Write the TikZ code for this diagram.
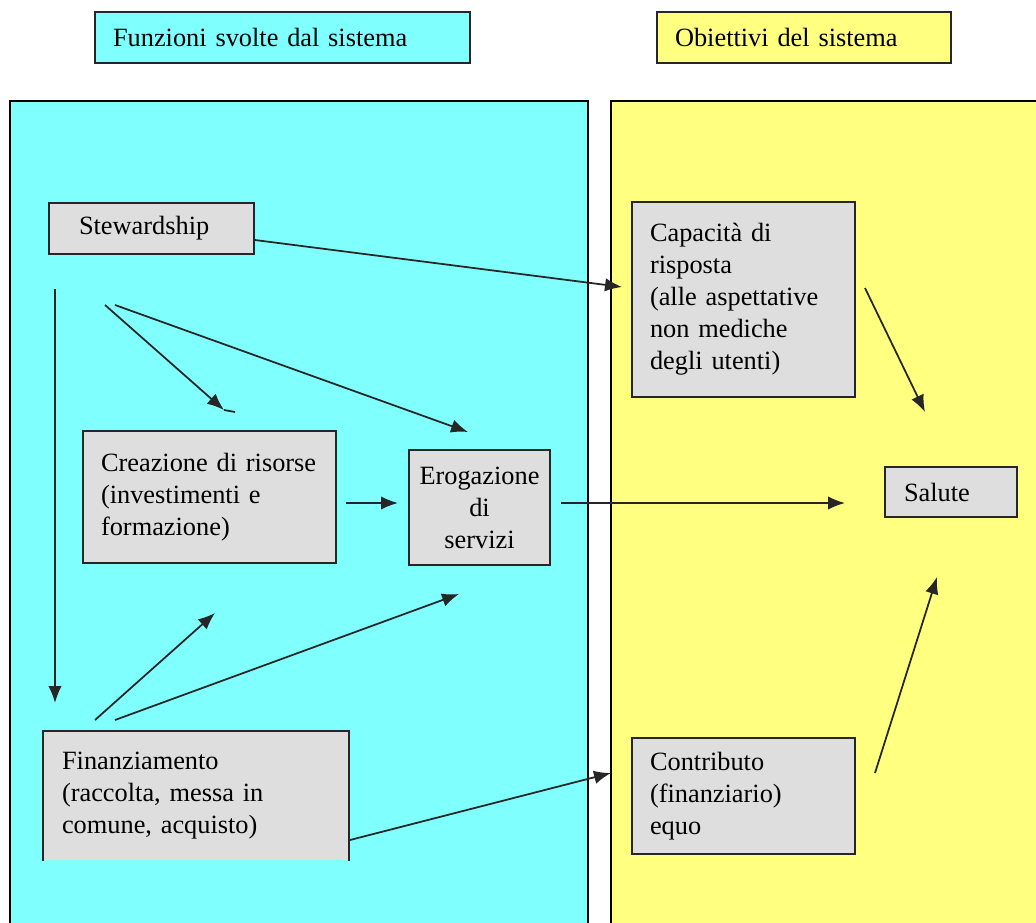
\documentclass[tikz,border=0pt]{standalone}
\usepackage{fontspec}
\setmainfont{Liberation Serif}
\usepackage{tikz}
\definecolor{ciano}{HTML}{80FFFF}
\definecolor{giallo}{HTML}{FFFF80}
\definecolor{grigio}{HTML}{DEDEDE}
\usetikzlibrary{arrows.meta}

\tikzset{
  boite/.style={rectangle, draw=black!85, fill=grigio, line width=1pt,
    align=left, font={\fontsize{15}{18.2}\selectfont}},
  fleche/.style={-{Latex[length=0.34cm,width=0.27cm]}, line width=1pt, black!85},
}

\begin{document}
\begin{tikzpicture}[x=0.02cm,y=-0.02cm]
  \clip (0,0) rectangle (1036,923);

  % les deux panneaux
  \draw[fill=ciano,line width=0.8pt] (10,101) rectangle (588,960);
  \draw[fill=giallo,line width=0.8pt] (611,101) rectangle (1060,960);

  % titres
  \node[boite,
    fill=ciano,
    minimum width=7.5cm,
    minimum height=1.02cm,
    inner xsep=0.36cm,
    text width=6.78cm] at (282.5,37.5) (tit1) {Funzioni svolte dal sistema};

  \node[boite,
    fill=giallo,
    minimum width=5.88cm,
    minimum height=1.02cm,
    inner xsep=0.36cm,
    text width=5.16cm] at (804,37.5) (tit2) {Obiettivi del sistema};

  % fonctions
  \node[boite,
    minimum width=4.1cm,
    minimum height=1.02cm,
    inner xsep=0.6cm,
    text width=2.9cm] at (151.5,228.5) (stew) {Stewardship};

  \node[boite,
    minimum width=5.06cm,
    minimum height=2.64cm,
    inner xsep=0.36cm,
    text width=4.34cm] at (209.5,497) (creaz) {Creazione di risorse\\(investimenti e\\formazione)};

  \node[boite,
    align=center,
    minimum width=2.82cm,
    minimum height=2.3cm,
    inner xsep=0.16cm,
    text width=2.5cm] at (479.5,507.5) (erog) {Erogazione\\di\\servizi};

  \node[boite,
    draw=none,
    minimum width=6.08cm,
    minimum height=2.56cm,
    inner xsep=0.36cm,
    text width=5.36cm] at (196,796) (finan) {Finanziamento\\(raccolta, messa in\\comune, acquisto)};
  \draw[black!85,line width=1pt] (finan.south west) -- (finan.north west)
    -- (finan.north east) -- (finan.south east);

  % objectifs
  \node[boite,
    minimum width=4.46cm,
    minimum height=3.9cm,
    inner xsep=0.36cm,
    text width=3.74cm] at (743.5,299.5) (capac) {Capacità di\\risposta\\(alle aspettative\\non mediche\\degli utenti)};

  \node[boite,
    minimum width=2.64cm,
    minimum height=1cm,
    inner xsep=0.38cm,
    text width=1.88cm] at (951,492) (salute) {Salute};

  \node[boite,
    minimum width=4.46cm,
    minimum height=2.32cm,
    inner xsep=0.36cm,
    text width=3.74cm] at (743.5,796) (contrib) {Contributo\\(finanziario)\\equo};

  % extremites libres
  \coordinate (cap1) at (622,287);
  \coordinate (st1) at (55,289);
  \coordinate (fi1) at (55,703);
  \coordinate (st2) at (105,305);
  \coordinate (cr1) at (224,410);
  \coordinate (st3) at (115,305);
  \coordinate (er1) at (468,432);
  \coordinate (cr2) at (346,503);
  \coordinate (er2) at (398,503);
  \coordinate (er3) at (561,503);
  \coordinate (sa1) at (845,503);
  \coordinate (fi2) at (95,720);
  \coordinate (cr3) at (215,613);
  \coordinate (fi3) at (115,720);
  \coordinate (er4) at (459,594);
  \coordinate (fi4) at (350,840);
  \coordinate (co1) at (611,773);
  \coordinate (ca2) at (865,288);
  \coordinate (sa2) at (925,412);
  \coordinate (co2) at (875,773);
  \coordinate (sa3) at (937,577);

  \draw[fleche] ([yshift=-0.23cm]stew.east) -- (cap1);
  \draw[fleche] (st1) -- (fi1);
  \draw[fleche] (st2) -- (cr1);
  \draw[black!85,line width=1pt] (cr1) -- ++(11,2);
  \draw[fleche] (st3) -- (er1);
  \draw[fleche] (cr2) -- (er2);
  \draw[fleche] (er3) -- (sa1);
  \draw[fleche] (fi2) -- (cr3);
  \draw[fleche] (fi3) -- (er4);
  \draw[fleche] (fi4) -- (co1);
  \draw[fleche] (ca2) -- (sa2);
  \draw[fleche] (co2) -- (sa3);

\end{tikzpicture}
\end{document}
